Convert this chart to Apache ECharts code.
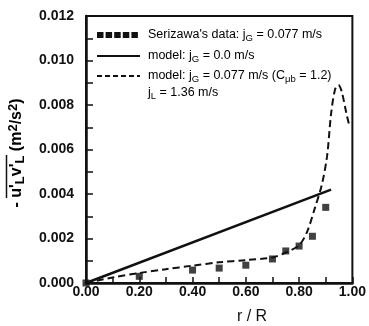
<!DOCTYPE html>
<html>
<head>
<meta charset="utf-8">
<script src="https://cdn.jsdelivr.net/npm/echarts@6/dist/echarts.min.js"></script>
<style>
  html, body { margin: 0; padding: 0; background: #fff; }
  #chart { width: 369px; height: 326px; }
</style>
</head>
<body>
<div id="chart"></div>
<script>
// Radial profile of the liquid Reynolds shear stress, r/R from the pipe axis
const serizawaR = [0.0, 0.2, 0.4, 0.5, 0.6, 0.7, 0.75, 0.8, 0.85, 0.9];
const serizawaStress = [0.0, 0.0003, 0.00058, 0.00067, 0.0008, 0.00108, 0.00144, 0.00166, 0.0021, 0.0034];

// model with jG = 0.0 m/s (straight line)
const modelZeroR = [0.0, 0.92];
const modelZeroStress = [0.0, 0.0042];

// model with jG = 0.077 m/s, C_mub = 1.2
const modelBubbleR = [0.0, 0.1, 0.2, 0.3, 0.4, 0.5, 0.6, 0.7, 0.75, 0.8, 0.83, 0.86, 0.885, 0.905, 0.92, 0.935, 0.948, 0.96, 0.978, 0.99];
const modelBubbleStress = [0.0, 0.00025, 0.00045, 0.00062, 0.00078, 0.00093, 0.00103, 0.00115, 0.00137, 0.0017, 0.0023, 0.0034, 0.0044, 0.0057, 0.0076, 0.0087, 0.0089, 0.0086, 0.0076, 0.007];

const xTicks = [0.0, 0.2, 0.4, 0.6, 0.8, 1.0];
const yTicks = [0.0, 0.002, 0.004, 0.006, 0.008, 0.010, 0.012];

const INK = '#111';
const FONT = '"Liberation Sans", Arial, sans-serif';

const pairs = (xs, ys) => xs.map((x, i) => [x, ys[i]]);

const chart = echarts.init(document.getElementById('chart'), null, { renderer: 'canvas' });

const legendX0 = 97, legendX1 = 140, textX = 148;
const rowY = [35, 56, 76, 93];
const txtRich = {
  n: { fontSize: 12.5, fontFamily: FONT, color: INK },
  s: { fontSize: 9.5, fontFamily: FONT, color: INK, verticalAlign: 'bottom', padding: [6, 0, 0, 0] }
};

const legendSquares = [];
for (let i = 0; i < 5; i++) {
  legendSquares.push({
    type: 'rect',
    shape: { x: legendX0 + i * 8.6, y: rowY[0] - 3, width: 6.5, height: 6 },
    style: { fill: INK }
  });
}

chart.setOption({
  animation: false,
  backgroundColor: '#fff',
  grid: {
    left: 86, top: 16, width: 270, height: 267,
    show: true, borderColor: INK, borderWidth: 2, backgroundColor: 'transparent'
  },
  xAxis: {
    type: 'value', min: 0, max: 1, interval: 0.1,
    axisLine: { show: true, lineStyle: { color: INK, width: 2.5 } },
    axisTick: { show: true, inside: true, length: 6, lineStyle: { color: INK, width: 1.5 } },
    splitLine: { show: false },
    axisLabel: {
      color: INK, fontSize: 14, fontFamily: FONT, fontWeight: 'bold', margin: 2,
      formatter: v => {
        const hit = xTicks.find(t => Math.abs(t - v) < 1e-9);
        return hit === undefined ? '' : hit.toFixed(2);
      }
    }
  },
  yAxis: {
    type: 'value', min: 0, max: 0.012, interval: 0.001,
    axisLine: { show: true, lineStyle: { color: INK, width: 2.5 } },
    axisTick: { show: true, inside: true, length: 7, lineStyle: { color: INK, width: 1.5 } },
    splitLine: { show: false },
    axisLabel: {
      color: INK, fontSize: 14, fontFamily: FONT, fontWeight: 'bold', margin: 12,
      formatter: v => {
        const hit = yTicks.find(t => Math.abs(t - v) < 1e-9);
        return hit === undefined ? '' : hit.toFixed(3);
      }
    }
  },
  series: [
    {
      name: "Serizawa's data",
      type: 'scatter',
      data: pairs(serizawaR, serizawaStress),
      symbol: 'rect', symbolSize: 7,
      itemStyle: { color: INK }
    },
    {
      name: 'model jG = 0.0',
      type: 'line',
      data: pairs(modelZeroR, modelZeroStress),
      showSymbol: false,
      lineStyle: { color: INK, width: 2.5 }
    },
    {
      name: 'model jG = 0.077',
      type: 'line',
      data: pairs(modelBubbleR, modelBubbleStress),
      showSymbol: false, smooth: 0.3,
      lineStyle: { color: INK, width: 2, type: [7, 4] }
    }
  ],
  graphic: [
    // legend samples
    ...legendSquares,
    { type: 'line', shape: { x1: legendX0, y1: rowY[1], x2: legendX1, y2: rowY[1] }, style: { stroke: INK, lineWidth: 2 } },
    { type: 'line', shape: { x1: legendX0, y1: rowY[2], x2: legendX1, y2: rowY[2] }, style: { stroke: INK, lineWidth: 2, lineDash: [5, 3] } },
    // legend texts
    { type: 'text', x: textX, y: rowY[0], style: { text: "{n|Serizawa's data: j}{s|G}{n| = 0.077 m/s}", rich: txtRich, verticalAlign: 'middle' } },
    { type: 'text', x: textX, y: rowY[1], style: { text: "{n|model: j}{s|G}{n| = 0.0 m/s}", rich: txtRich, verticalAlign: 'middle' } },
    { type: 'text', x: textX, y: rowY[2], style: { text: "{n|model: j}{s|G}{n| = 0.077 m/s (C}{s|μb}{n| = 1.2)}", rich: txtRich, verticalAlign: 'middle' } },
    { type: 'text', x: textX, y: rowY[3], style: { text: "{n|j}{s|L}{n| = 1.36 m/s}", rich: txtRich, verticalAlign: 'middle' } },
    // x-axis title
    { type: 'text', x: 252, y: 317, style: { text: 'r / R', font: '16px ' + FONT, fill: INK, align: 'center', verticalAlign: 'middle' } },
    // y-axis title, rotated to read upward
    {
      type: 'group', x: 17, y: 153, rotation: Math.PI / 2,
      children: [
        {
          type: 'text', x: 0, y: 0,
          style: {
            text: "{t|- u'}{u|L}{t|v'}{u|L}{t| (m}{p|2}{t|/s}{p|2}{t|)}",
            align: 'center', verticalAlign: 'middle',
            rich: {
              t: { fontSize: 16, fontFamily: FONT, fontWeight: 'bold', color: INK },
              u: { fontSize: 13, fontFamily: FONT, fontWeight: 'bold', color: INK, verticalAlign: 'bottom', padding: [7, 0, 0, 0] },
              p: { fontSize: 13, fontFamily: FONT, fontWeight: 'bold', color: INK, verticalAlign: 'top', padding: [0, 0, 6, 0] }
            }
          }
        }
      ]
    },
    // overline across the u'v' product
    { type: 'line', shape: { x1: 6.5, y1: 155, x2: 6.5, y2: 198 }, style: { stroke: INK, lineWidth: 1.5 } }
  ]
});
</script>
</body>
</html>
